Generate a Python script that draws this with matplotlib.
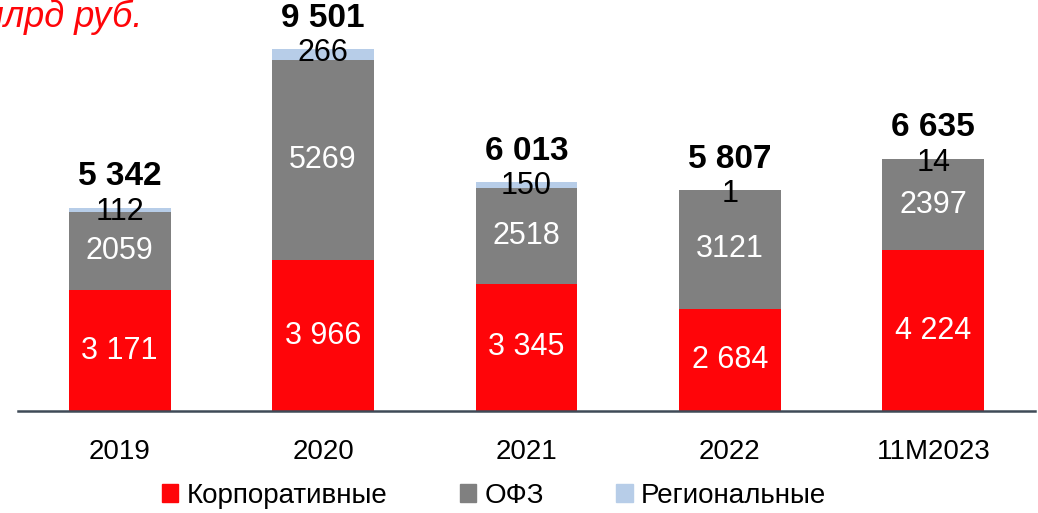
import matplotlib
matplotlib.use("Agg")
import matplotlib.pyplot as plt
from matplotlib.patches import Patch

plt.rcParams['font.family'] = ['Liberation Sans', 'DejaVu Sans']

categories = ["2019", "2020", "2021", "2022", "11M2023"]
corporate = [3171, 3966, 3345, 2684, 4224]
ofz = [2059, 5269, 2518, 3121, 2397]
regional = [112, 266, 150, 1, 14]
totals = [5342, 9501, 6013, 5807, 6635]

corp_labels = ["3 171", "3 966", "3 345", "2 684", "4 224"]
ofz_labels = ["2059", "5269", "2518", "3121", "2397"]
reg_labels = ["112", "266", "150", "1", "14"]
total_labels = ["5 342", "9 501", "6 013", "5 807", "6 635"]

RED = "#FF0509"
GRAY = "#808080"
BLUE = "#B7CDE8"

fig = plt.figure(figsize=(10.38, 5.13), dpi=100)
ax = fig.add_axes([18 / 1038, 102 / 513, 1017 / 1038, 411 / 513])

x = list(range(len(categories)))
w = 0.5
ax.bar(x, corporate, width=w, color=RED, label="Корпоративные")
ax.bar(x, ofz, width=w, bottom=corporate, color=GRAY, label="ОФЗ")
base2 = [c + o for c, o in zip(corporate, ofz)]
ax.bar(x, regional, width=w, bottom=base2, color=BLUE, label="Региональные")

ax.set_xlim(-0.5, len(categories) - 0.5)
ax.set_ylim(0, 10800)

for i in x:
    ax.text(i, corporate[i] / 2, corp_labels[i], ha="center", va="center",
            color="white", fontsize=22)
    ax.text(i, corporate[i] + ofz[i] / 2, ofz_labels[i], ha="center", va="center",
            color="white", fontsize=22)
    ax.annotate(reg_labels[i], (i, base2[i] + regional[i]), xytext=(0, -4),
                textcoords="offset pixels", ha="center", va="center",
                color="black", fontsize=22)
    ax.annotate(total_labels[i], (i, totals[i]), xytext=(0, 31),
                textcoords="offset pixels", ha="center", va="center",
                color="black", fontsize=24, fontweight="bold")

for s in ["top", "right", "left"]:
    ax.spines[s].set_visible(False)
ax.spines["bottom"].set_color("#3F4A57")
ax.spines["bottom"].set_linewidth(1.8)
ax.set_yticks([])
ax.set_xticks(x)
ax.set_xticklabels(categories, fontsize=20)
ax.tick_params(axis="x", length=0, pad=20)

fig.text(-21 / 1038, 1 - 17 / 513, "млрд руб.", color=RED, fontsize=26,
         fontstyle="italic", ha="left", va="center")

handles = [Patch(color=RED), Patch(color=GRAY), Patch(color=BLUE)]
fig.legend(handles, ["Корпоративные", "ОФЗ", "Региональные"],
           loc="center", bbox_to_anchor=(494 / 1038, 1 - 496 / 513),
           ncol=3, frameon=False, fontsize=20, handlelength=0.6,
           handleheight=0.6, handletextpad=0.3, columnspacing=2.6)

fig.savefig("out.png", dpi=100)
